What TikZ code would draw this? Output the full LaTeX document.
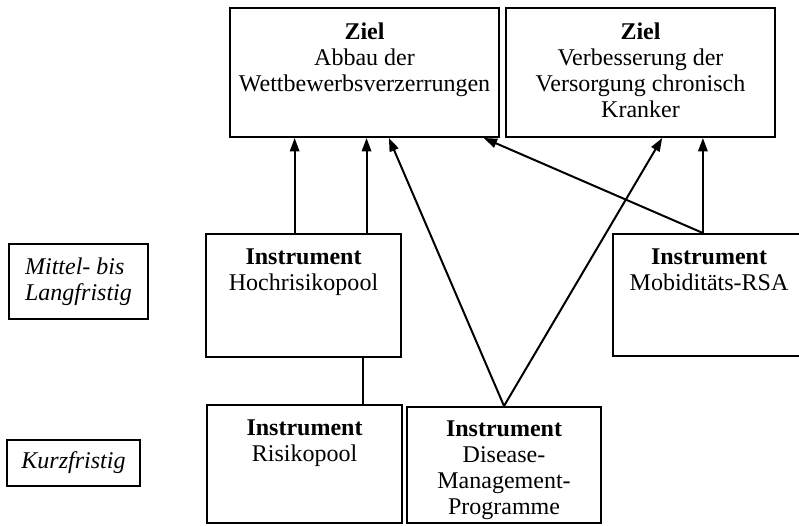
\documentclass[tikz,border=0pt]{standalone}
\usepackage{fontspec}
\setmainfont{Liberation Serif}
\usetikzlibrary{arrows.meta,positioning,calc}

\begin{document}
\begin{tikzpicture}[
    x=0.75pt, y=-0.75pt,
    box/.style={draw,line width=1.5pt,rectangle,anchor=north west,inner sep=0pt},
    boxtext/.style={draw=none,anchor=north,align=center,inner sep=0pt,font=\fontsize{18}{19.5}\selectfont},
    sidetext/.style={draw=none,align=left,inner sep=0pt,font=\fontsize{18}{19.5}\selectfont\itshape},
    arr/.style={-{Triangle[length=10pt,width=7pt]},line width=1.5pt},
    link/.style={-,line width=1.5pt},
]
\useasboundingbox (0,0) rectangle (799,525);
\clip (0,0) rectangle (799,525);

% Goals
\node[box,minimum width=201.75pt,minimum height=96.75pt] (ziel1) at (229,7) {};
\node[box,minimum width=201.75pt,minimum height=96.75pt] (ziel2) at (505,7) {};
\node[boxtext] (ziel1text) at ($(ziel1.north)+(0,16)$) {\textbf{Ziel}\\Abbau der\\Wettbewerbsverzerrungen};
\node[boxtext] (ziel2text) at ($(ziel2.north)+(0,16)$) {\textbf{Ziel}\\Verbesserung der\\Versorgung chronisch\\Kranker};

% Time horizons
\node[box,minimum width=104.25pt,minimum height=56.25pt] (mittel) at (8,243) {};
\node[sidetext] (mitteltext) at (mittel.center) {Mittel- bis\\Langfristig};
\node[box,minimum width=99.75pt,minimum height=34.5pt] (kurz) at (6,439) {};
\node[sidetext] (kurztext) at (kurz.center) {Kurzfristig};

% Instruments (medium to long term)
\node[box,minimum width=146.25pt,minimum height=92.25pt] (hrp) at (205,233) {};
\node[boxtext] (hrptext) at ($(hrp.north)+(0,16)$) {\textbf{Instrument}\\Hochrisikopool};
\node[box,minimum width=150pt,minimum height=91.5pt] (mrsa) at (612,233) {};
\node[boxtext] (mrsatext) at ($(mrsa.north)+(-4,16)$) {\textbf{Instrument}\\Mobiditäts-RSA};

% Instruments (short term)
\node[box,minimum width=146.25pt,minimum height=88.5pt] (risk) at (206,404) {};
\node[boxtext] (risktext) at ($(risk.north)+(0,16)$) {\textbf{Instrument}\\Risikopool};
\node[box,minimum width=145.5pt,minimum height=87pt] (dmp) at (406,406) {};
\node[boxtext] (dmptext) at ($(dmp.north)+(0,15)$) {\textbf{Instrument}\\Disease-\\Management-\\Programme};

% Connection points
\coordinate (hrpA) at ($(hrp.north west)!0.455!(hrp.north east)$);
\coordinate (hrpB) at ($(hrp.north west)!0.82!(hrp.north east)$);
\coordinate (hrpC) at ($(hrp.south west)!0.80!(hrp.south east)$);
\coordinate (mrsaA) at ($(mrsa.north west)!0.45!(mrsa.north east)$);
\coordinate (ziel1A) at ($(ziel1.south west)!0.59!(ziel1.south east)$);
\coordinate (ziel1B) at ($(ziel1.south west)!0.94!(ziel1.south east)$);
\coordinate (ziel2A) at ($(ziel2.south west)!0.58!(ziel2.south east)$);

% Arrows to the goals
\draw[arr] (hrpA) -- (hrpA |- ziel1.south);
\draw[arr] (hrpB) -- (hrpB |- ziel1.south);
\draw[arr] (dmp.north) -- (ziel1A);
\draw[arr] (dmp.north) -- (ziel2A);
\draw[arr] (mrsaA) -- (ziel1B);
\draw[arr] (mrsaA) -- (mrsaA |- ziel2.south);

% Hochrisikopool -- Risikopool
\draw[link] (hrpC) -- (hrpC |- risk.north);

\end{tikzpicture}
\end{document}
